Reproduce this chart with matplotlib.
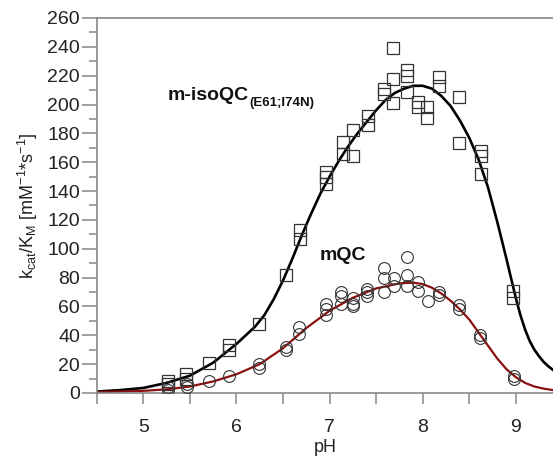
import matplotlib
matplotlib.use("Agg")
import matplotlib.pyplot as plt
from matplotlib.ticker import MultipleLocator

plt.rcParams['font.family'] = ['Liberation Sans', 'DejaVu Sans']
plt.rcParams['mathtext.fontset'] = 'custom'
plt.rcParams['mathtext.rm'] = 'Liberation Sans'
plt.rcParams['mathtext.it'] = 'Liberation Sans:italic'
plt.rcParams['mathtext.bf'] = 'Liberation Sans:bold'

# m-isoQC(E61;I74N) measurements (squares)
iso_ph = [5.27, 5.27, 5.46, 5.46, 5.71, 5.92, 5.92, 6.24,
          6.53, 6.68, 6.68, 6.96, 6.96, 6.96,
          7.14, 7.14, 7.25, 7.25, 7.41, 7.41, 7.58, 7.58,
          7.68, 7.68, 7.68, 7.83, 7.83, 7.83, 7.95, 7.95,
          8.05, 8.05, 8.18, 8.18, 8.39, 8.39,
          8.63, 8.63, 8.63, 8.97, 8.97]
iso_val = [6, 8, 10, 13, 21, 30, 33, 48,
           82, 107, 113, 145, 150, 153,
           166, 174, 164, 182, 186, 192, 207, 211,
           218, 201, 239, 220, 224, 209, 202, 198,
           198, 191, 219, 213, 205, 173,
           168, 164, 152, 66, 71]

# mQC measurements (circles)
mqc_ph = [5.26, 5.26, 5.47, 5.47, 5.71, 5.92, 6.24, 6.24,
          6.53, 6.53, 6.67, 6.67, 6.96, 6.96, 6.96,
          7.12, 7.12, 7.12, 7.25, 7.25, 7.25, 7.40, 7.40, 7.40,
          7.58, 7.58, 7.58, 7.69, 7.69, 7.83, 7.83, 7.83,
          7.95, 7.95, 8.06, 8.18, 8.18, 8.39, 8.39,
          8.62, 8.62, 8.98, 8.98]
mqc_val = [2, 4, 4, 6, 8, 12, 17, 20,
           30, 32, 41, 46, 54, 58, 62,
           62, 67, 70, 60, 62, 66, 67, 70, 72,
           70, 80, 87, 74, 80, 74, 82, 94,
           71, 77, 64, 68, 70, 58, 61,
           38, 40, 10, 12]

# fitted curves
iso_fit_ph = [4.5, 4.75, 5.0, 5.25, 5.5, 5.75, 6.0, 6.1, 6.2, 6.3, 6.4,
              6.5, 6.6, 6.7, 6.8, 6.9, 7.0, 7.1, 7.2, 7.3, 7.4, 7.5,
              7.6, 7.7, 7.8, 7.9, 8.0, 8.1, 8.2, 8.3, 8.4, 8.5, 8.6,
              8.7, 8.8, 8.9, 9.0, 9.05, 9.1, 9.15, 9.2, 9.25, 9.3,
              9.35, 9.4]
iso_fit = [1, 2, 3.5, 7, 12, 21, 34, 40, 46, 54, 65,
           78, 93, 109, 124, 138, 150, 161, 171, 180, 188, 196,
           203, 208, 211, 213, 213, 211, 206, 199, 189, 177, 162,
           143, 119, 93, 66, 54, 44, 36, 30, 25.5, 21.5,
           18.5, 16]
mqc_fit_ph = [4.5, 4.75, 5.0, 5.25, 5.5, 5.75, 6.0, 6.25, 6.5, 6.75,
              7.0, 7.25, 7.5, 7.75, 7.9, 8.0, 8.1, 8.2, 8.3, 8.4, 8.5,
              8.6, 8.7, 8.8, 8.9, 9.0, 9.1, 9.2, 9.3, 9.4]
mqc_fit = [0.5, 1, 1.5, 2.5, 4.5, 8, 13, 20, 31, 45,
           57, 66, 72.5, 76, 76.5, 75.5, 73, 69, 64, 58, 51,
           42, 33, 24, 16.5, 11, 7, 4.5, 3, 2]

fig = plt.figure(figsize=(5.53, 4.59), dpi=100)
ax = fig.add_axes([0.175, 0.1438, 0.825, 0.817])

ax.plot(iso_fit_ph, iso_fit, color='black', lw=1.9, zorder=2,
        solid_joinstyle='round')
ax.plot(mqc_fit_ph, mqc_fit, color='#8b1010', lw=1.6, zorder=2,
        solid_joinstyle='round')
ax.plot(iso_ph, iso_val, ls='none', marker='s', ms=8, mfc='none',
        mec='#333333', mew=0.9, zorder=3)
ax.plot(mqc_ph, mqc_val, ls='none', marker='o', ms=8.5, mfc='none',
        mec='#333333', mew=0.8, zorder=3)

ax.set_xlim(4.5, 9.4)
ax.set_ylim(0, 260)
ax.xaxis.set_major_locator(MultipleLocator(1))
ax.xaxis.set_minor_locator(MultipleLocator(0.5))
ax.yaxis.set_major_locator(MultipleLocator(20))
ax.yaxis.set_minor_locator(MultipleLocator(10))

gray = '#888888'
for side in ['left', 'bottom', 'top']:
    ax.spines[side].set_color(gray)
    ax.spines[side].set_linewidth(1.2)
ax.spines['right'].set_visible(False)
ax.tick_params(axis='both', which='both', direction='out', color=gray,
               width=1.1, labelsize=14, labelcolor='#222222')
ax.tick_params(axis='y', which='major', length=11, pad=1)
ax.tick_params(axis='y', which='minor', length=6)
ax.tick_params(axis='x', which='major', length=8, pad=11)
ax.tick_params(axis='x', which='minor', length=8)

ax.set_xlabel('pH', fontsize=13, color='#222222', labelpad=2)
ax.set_ylabel(r'k$_{\mathregular{cat}}$/K$_{\mathregular{M}}$ [mM$^{\mathregular{-1}}$*s$^{\mathregular{-1}}$]',
              fontsize=13, color='#222222', labelpad=5.5)

lab = ax.text(5.26, 206, 'm-isoQC', fontsize=14, fontweight='bold',
              color='#111111', va='center')
ax.annotate('(E61;I74N)', xy=(1, 0), xycoords=lab, xytext=(0.5, -3),
            textcoords='offset points', fontsize=9.5, fontweight='bold',
            color='#111111', va='bottom', ha='left')
ax.text(6.89, 95, 'mQC', fontsize=14, fontweight='bold', color='#111111',
        va='center')

fig.savefig('out.png', dpi=100)
